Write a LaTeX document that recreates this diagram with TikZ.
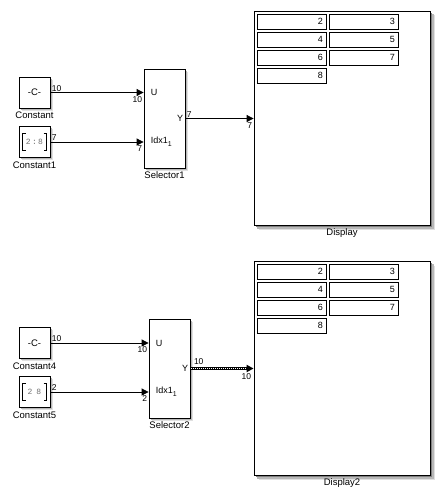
\documentclass[tikz,border=0pt]{standalone}
\usepackage{fontspec}
\setmainfont{Liberation Sans}
\setmonofont{Liberation Mono}
\usetikzlibrary{arrows.meta}

\tikzset{
  block/.style   = {draw, fill=white, line width=0.8pt, inner sep=0pt,
                    label distance=2pt},
  shadowa/.style = {fill=black!50},
  shadowb/.style = {fill=black!28},
  shadowc/.style = {fill=black!12},
  sig/.style     = {line width=0.8pt, -{Triangle[length=7pt,width=7pt]}},
  vecsig/.style  = {line width=3.2pt, -{Triangle[length=7pt,width=7pt]}},
  vecdots/.style = {white, line width=1.2pt, dash pattern=on 1pt off 1pt},
  dim/.style     = {font=\fontsize{8.5}{10}\selectfont, inner sep=1pt},
  dimin/.style   = {dim, below left, yshift=-2.5pt},
  port/.style    = {font=\fontsize{9}{10}\selectfont, inner sep=2pt},
  cell/.style    = {draw, line width=0.8pt, minimum height=15pt,
                    text width=63pt, inner xsep=3pt, inner ysep=0pt,
                    align=right, font=\fontsize{9}{10}\selectfont},
  bracket/.style = {line width=1.1pt},
  idx/.style     = {black!55, font=\ttfamily\fontsize{8}{9}\selectfont}
}

\begin{document}
\begin{tikzpicture}[x=1pt, y=-1pt,
    font = \fontsize{9.5}{11}\selectfont]
  \useasboundingbox (0,0) rectangle (440,503);

  \fill[shadowc] (258.5,15.5) rectangle (435,230);
  \fill[shadowb] (257,14) rectangle (433.5,228.5);
  \fill[shadowa] (256,13) rectangle (432,227);
  \fill[shadowc] (258.5,265.5) rectangle (435,480);
  \fill[shadowb] (257,264) rectangle (433.5,478.5);
  \fill[shadowa] (256,263) rectangle (432,477);
  \fill[shadowc] (21.5,79.5) rectangle (52.5,110.5);
  \fill[shadowb] (20.5,78.5) rectangle (51.5,109.5);
  \fill[shadowc] (21.5,129) rectangle (52.5,160);
  \fill[shadowb] (20.5,128) rectangle (51.5,159);
  \fill[shadowc] (146.5,71.5) rectangle (187.5,170.5);
  \fill[shadowb] (145.5,70.5) rectangle (186.5,169.5);
  \fill[shadowc] (21.5,330) rectangle (52.5,361);
  \fill[shadowb] (20.5,329) rectangle (51.5,360);
  \fill[shadowc] (21.5,379) rectangle (52.5,410);
  \fill[shadowb] (20.5,378) rectangle (51.5,409);
  \fill[shadowc] (151.5,321.5) rectangle (192.5,420.5);
  \fill[shadowb] (150.5,320.5) rectangle (191.5,419.5);

  \node[block, minimum width=31pt, minimum height=31pt,
        label=below:Constant]  (const)  at (34.5,92.5)  {-C-};
  \node[block, minimum width=31pt, minimum height=31pt,
        label=below:Constant1] (const1) at (34.5,142)   {};
  \node[idx] (const1val) at (const1.center) {2\,:\,8};
  \draw[bracket] ([xshift=-9pt,yshift=8.5pt]const1.center)
                 -- ++(-3,0) -- ++(0,17) -- ++(3,0);
  \draw[bracket] ([xshift=9pt,yshift=8.5pt]const1.center)
                 -- ++(3,0) -- ++(0,17) -- ++(-3,0);
  \node[block, minimum width=41pt, minimum height=99pt,
        label=below:Selector1] (sel1) at (164.5,118.5) {};
  \node[port, right, xshift=5pt] (sel1u)   at (sel1.west |- const.east)  {U};
  \node[port, right, xshift=5pt] (sel1idx) at (sel1.west |- const1.east)
        {Idx1\raisebox{-0.6ex}{\fontsize{7}{8}\selectfont 1}};
  \node[port, left]  (sel1y)   at (sel1.east) {Y};
  \node[block, minimum width=176pt, minimum height=214pt,
        label=below:Display] (disp) at (342,118) {};
  \node[cell] (d11) at (291.5,21.5) {2};
  \node[cell] (d12) at (363.5,21.5) {3};
  \node[cell] (d21) at (291.5,39.5) {4};
  \node[cell] (d22) at (363.5,39.5) {5};
  \node[cell] (d31) at (291.5,57.5) {6};
  \node[cell] (d32) at (363.5,57.5) {7};
  \node[cell] (d41) at (291.5,75.5) {8};

  \draw[sig] (const.east) -- (const.east -| sel1.west)
    node[dim, pos=0, above right] {10}
    node[dimin, pos=1] {10};
  \draw[sig] (const1.east) -- (const1.east -| sel1.west)
    node[dim, pos=0, above right] {7}
    node[dimin, pos=1] {7};
  \draw[sig] (sel1.east) -- (sel1.east -| disp.west)
    node[dim, pos=0, above right] {7}
    node[dimin, pos=1] {7};

  \node[block, minimum width=31pt, minimum height=31pt,
        label=below:Constant4] (const4) at (34.5,343)   {-C-};
  \node[block, minimum width=31pt, minimum height=31pt,
        label=below:Constant5] (const5) at (34.5,392)   {};
  \node[idx] (const5val) at (const5.center) {2\,\,\,8};
  \draw[bracket] ([xshift=-9pt,yshift=8.5pt]const5.center)
                 -- ++(-3,0) -- ++(0,17) -- ++(3,0);
  \draw[bracket] ([xshift=9pt,yshift=8.5pt]const5.center)
                 -- ++(3,0) -- ++(0,17) -- ++(-3,0);
  \node[block, minimum width=41pt, minimum height=99pt,
        label=below:Selector2] (sel2) at (169.5,368.5) {};
  \node[port, right, xshift=5pt] (sel2u)   at (sel2.west |- const4.east) {U};
  \node[port, right, xshift=5pt] (sel2idx) at (sel2.west |- const5.east)
        {Idx1\raisebox{-0.6ex}{\fontsize{7}{8}\selectfont 1}};
  \node[port, left]  (sel2y)   at (sel2.east) {Y};
  \node[block, minimum width=176pt, minimum height=214pt,
        label=below:Display2] (disp2) at (342,368) {};
  \node[cell] (e11) at (291.5,271.5) {2};
  \node[cell] (e12) at (363.5,271.5) {3};
  \node[cell] (e21) at (291.5,289.5) {4};
  \node[cell] (e22) at (363.5,289.5) {5};
  \node[cell] (e31) at (291.5,307.5) {6};
  \node[cell] (e32) at (363.5,307.5) {7};
  \node[cell] (e41) at (291.5,325.5) {8};

  \draw[sig] (const4.east) -- (const4.east -| sel2.west)
    node[dim, pos=0, above right] {10}
    node[dimin, pos=1] {10};
  \draw[sig] (const5.east) -- (const5.east -| sel2.west)
    node[dim, pos=0, above right] {2}
    node[dimin, pos=1] {2};
  \draw[vecsig] (sel2.east) -- (sel2.east -| disp2.west)
    node[dim, pos=0, above right=1pt] {10}
    node[dimin, pos=1] {10};
  \draw[vecdots] ([xshift=1pt]sel2.east)
    -- ([xshift=-8pt]sel2.east -| disp2.west);
\end{tikzpicture}
\end{document}
